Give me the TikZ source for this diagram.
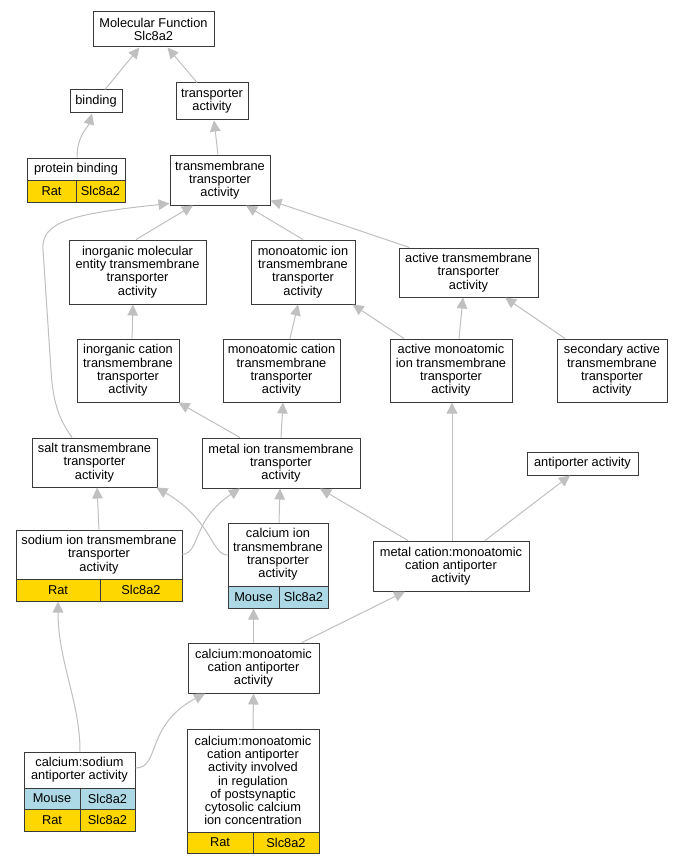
\documentclass[tikz,border=0pt]{standalone}
\usepackage{fontspec}
\setmainfont{Liberation Sans}
\usetikzlibrary{arrows.meta}
\definecolor{edgegray}{HTML}{C0C0C0}
\definecolor{cgold}{HTML}{FFD700}
\definecolor{cblue}{HTML}{ADD8E6}
\definecolor{bord}{HTML}{3A3A3A}
\begin{document}
\begin{tikzpicture}[x=1pt,y=-1pt,
  box/.style={draw=bord, line width=1pt, fill=white, inner sep=0pt, align=center,
    font=\fontsize{12.8}{13.3}\selectfont, rectangle},
  ycell/.style={box, fill=cgold},
  bcell/.style={box, fill=cblue},
  edge/.style={draw=edgegray, line width=1pt, -{Triangle[length=11pt,width=10.5pt]}}]
\fill[white] (0,0) rectangle (683,864);
\useasboundingbox (0,0) rectangle (683,864);
% nodes
\node[box, minimum width=121, minimum height=35] (mf) at (153.5,29.5) {Molecular Function\\Slc8a2};
\node[box, minimum width=52, minimum height=23] (bind) at (96,101.5) {binding};
\node[box, minimum width=72, minimum height=37] (ta) at (212,101.5) {transporter\\activity};
\node[box, minimum width=98, minimum height=22] (pb) at (76,169) {protein binding};
\node[ycell, minimum width=49, minimum height=22] (pbr) at (51.5,191) {Rat};
\node[ycell, minimum width=49, minimum height=22] (pbs) at (100.5,191) {Slc8a2};
\node[box, minimum width=100, minimum height=50] (tta) at (220,180) {transmembrane\\transporter\\activity};
\node[box, minimum width=137, minimum height=64] (ime) at (137.5,272) {inorganic molecular\\entity transmembrane\\transporter\\activity};
\node[box, minimum width=104, minimum height=64] (mii) at (303,272) {monoatomic ion\\transmembrane\\transporter\\activity};
\node[box, minimum width=139, minimum height=49] (atta) at (468.5,272.5) {active transmembrane\\transporter\\activity};
\node[box, minimum width=102, minimum height=63] (ic) at (128,370.5) {inorganic cation\\transmembrane\\transporter\\activity};
\node[box, minimum width=117, minimum height=63] (mc) at (281.5,370.5) {monoatomic cation\\transmembrane\\transporter\\activity};
\node[box, minimum width=122, minimum height=63] (ami) at (451,370.5) {active monoatomic\\ion transmembrane\\transporter\\activity};
\node[box, minimum width=110, minimum height=63] (sa) at (612,370.5) {secondary active\\transmembrane\\transporter\\activity};
\node[box, minimum width=125, minimum height=49] (salt) at (94.5,462.5) {salt transmembrane\\transporter\\activity};
\node[box, minimum width=158, minimum height=50] (mi) at (281,463) {metal ion transmembrane\\transporter\\activity};
\node[box, minimum width=111, minimum height=23] (anti) at (582.5,463.5) {antiporter activity};
\node[box, minimum width=166, minimum height=49] (na) at (99,554.5) {sodium ion transmembrane\\transporter\\activity};
\node[ycell, minimum width=84, minimum height=22] (nar) at (58,590) {Rat};
\node[ycell, minimum width=82, minimum height=22] (nas) at (141,590) {Slc8a2};
\node[box, minimum width=100, minimum height=63] (ca) at (278,554.5) {calcium ion\\transmembrane\\transporter\\activity};
\node[bcell, minimum width=51, minimum height=22] (cam) at (253.5,597) {Mouse};
\node[bcell, minimum width=49, minimum height=22] (cas) at (303.5,597) {Slc8a2};
\node[box, minimum width=156, minimum height=50] (mca) at (451,566) {metal cation:monoatomic\\cation antiporter\\activity};
\node[box, minimum width=131, minimum height=50] (cma) at (253.5,668) {calcium:monoatomic\\cation antiporter\\activity};
\node[box, minimum width=111, minimum height=36] (cs) at (79.5,770) {calcium:sodium\\antiporter activity};
\node[bcell, minimum width=56, minimum height=21] (csm) at (52,798.5) {Mouse};
\node[bcell, minimum width=55, minimum height=21] (csms) at (107.5,798.5) {Slc8a2};
\node[ycell, minimum width=56, minimum height=22] (csr) at (52,820) {Rat};
\node[ycell, minimum width=55, minimum height=22] (csrs) at (107.5,820) {Slc8a2};
\node[box, minimum width=132, minimum height=103] (cmr) at (253,780.5) {calcium:monoatomic\\cation antiporter\\activity involved\\in regulation\\of postsynaptic\\cytosolic calcium\\ion concentration};
\node[ycell, minimum width=66, minimum height=21] (cmrr) at (220,842.5) {Rat};
\node[ycell, minimum width=66, minimum height=21] (cmrs) at (286,842.5) {Slc8a2};
% edges
\draw[edge] ([xshift=9pt]bind.north) -- ([xshift=-14pt]mf.south);
\draw[edge] ([xshift=-15pt]ta.north) -- ([xshift=14pt]mf.south);
\draw[edge] ([xshift=1pt]pb.north) .. controls +(0,-22) and +(-4,14) .. ([xshift=-4pt]bind.south);
\draw[edge] ([xshift=-2pt]tta.north) -- ([xshift=2pt]ta.south);
\draw[edge] ([xshift=-1.5pt]ime.north) -- ([xshift=-27pt]tta.south);
\draw[edge] (mii.north) -- ([xshift=26pt]tta.south);
\draw[edge] ([xshift=-59pt]atta.north) -- ([yshift=5pt]tta.south east);
\draw[edge] ([xshift=-22.5pt]salt.north) .. controls (60,420) and (53,405) .. (51,370) -- (43,250) .. controls (41,222) and (70,214) .. ([yshift=2pt]tta.south west);
\draw[edge] ([xshift=4pt]ic.north) -- ([xshift=-4.5pt]ime.south);
\draw[edge] ([xshift=8.5pt]mc.north) -- ([xshift=-5pt]mii.south);
\draw[edge] ([xshift=-47pt]ami.north) -- ([xshift=-3pt]mii.south east);
\draw[edge] ([xshift=8pt]ami.north) -- ([xshift=-5.5pt]atta.south);
\draw[edge] ([xshift=-47pt]sa.north) -- ([xshift=36.5pt]atta.south);
\draw[edge] ([xshift=-41pt]mi.north) -- ([xshift=-1pt]ic.south east);
\draw[edge] (mi.north) -- ([xshift=1.5pt]mc.south);
\draw[edge] (na.north) -- ([xshift=2.5pt]salt.south);
\draw[edge] (na.east) .. controls +(18,-2) and (192,520) .. ([xshift=-41pt]mi.south);
\draw[edge] ([yshift=-0.5pt]ca.west) .. controls +(-16,0) and (212,520) .. ([xshift=-1pt]salt.south east);
\draw[edge] ([xshift=1pt]ca.north) -- ([xshift=-1pt]mi.south);
\draw[edge] ([xshift=-43pt]mca.north) -- ([xshift=39pt]mi.south);
\draw[edge] ([xshift=1pt]mca.north) -- ([xshift=1pt]ami.south);
\draw[edge] ([xshift=34pt]mca.north) -- ([xshift=-12.5pt]anti.south);
\draw[edge] (cma.north) -- (cam.south);
\draw[edge] ([xshift=48.5pt]cma.north) -- ([xshift=-46pt]mca.south);
\draw[edge] ([xshift=0.5pt]cs.north) .. controls +(0,-50) and +(0,60) .. (nar.south);
\draw[edge] ([yshift=2pt]cs.east) .. controls +(25,0) and (145,725) .. ([xshift=-48.5pt]cma.south);
\draw[edge] (cmr.north) -- (cma.south);
\end{tikzpicture}
\end{document}
